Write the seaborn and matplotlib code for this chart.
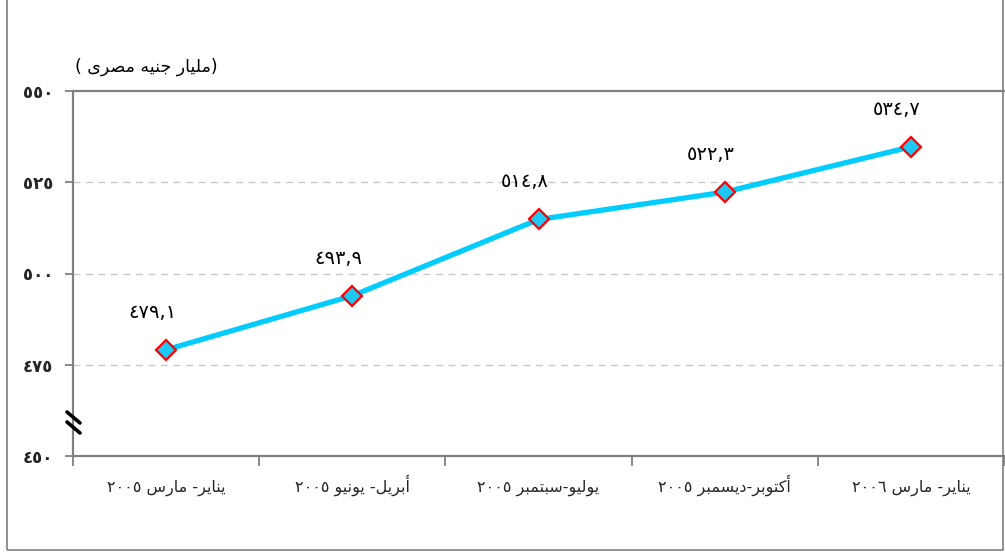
import matplotlib
matplotlib.use("Agg")
import matplotlib.pyplot as plt
import matplotlib.lines as mlines
from matplotlib.patches import Rectangle
from matplotlib.ticker import FixedLocator, NullFormatter
import seaborn as sns
import pandas as pd

# ---------------- data ----------------
periods = ["يناير- مارس ٢٠٠٥", "أبريل- يونيو ٢٠٠٥", "يوليو-سبتمبر ٢٠٠٥",
           "أكتوبر-ديسمبر ٢٠٠٥", "يناير- مارس ٢٠٠٦"]
values = [479.1, 493.9, 514.8, 522.3, 534.7]
value_labels = ["٤٧٩,١", "٤٩٣,٩", "٥١٤,٨", "٥٢٢,٣", "٥٣٤,٧"]
y_ticks = [450, 475, 500, 525, 550]
y_tick_labels = ["٤٥٠", "٤٧٥", "٥٠٠", "٥٢٥", "٥٥٠"]
unit_label = "(مليار جنيه مصرى )"

# ------------- minimal Arabic shaping (matplotlib has no bidi/shaping) -------------
FORMS = {
    'ا': ('\uFE8D', '\uFE8E', None, None),
    'أ': ('\uFE83', '\uFE84', None, None),
    'ب': ('\uFE8F', '\uFE90', '\uFE91', '\uFE92'),
    'ت': ('\uFE95', '\uFE96', '\uFE97', '\uFE98'),
    'ج': ('\uFE9D', '\uFE9E', '\uFE9F', '\uFEA0'),
    'د': ('\uFEA9', '\uFEAA', None, None),
    'ر': ('\uFEAD', '\uFEAE', None, None),
    'س': ('\uFEB1', '\uFEB2', '\uFEB3', '\uFEB4'),
    'ص': ('\uFEB9', '\uFEBA', '\uFEBB', '\uFEBC'),
    'ك': ('\uFED9', '\uFEDA', '\uFEDB', '\uFEDC'),
    'ل': ('\uFEDD', '\uFEDE', '\uFEDF', '\uFEE0'),
    'م': ('\uFEE1', '\uFEE2', '\uFEE3', '\uFEE4'),
    'ن': ('\uFEE5', '\uFEE6', '\uFEE7', '\uFEE8'),
    'ه': ('\uFEE9', '\uFEEA', '\uFEEB', '\uFEEC'),
    'و': ('\uFEED', '\uFEEE', None, None),
    'ى': ('\uFEEF', '\uFEF0', None, None),
    'ي': ('\uFEF1', '\uFEF2', '\uFEF3', '\uFEF4'),
}
MIRROR = {'(': ')', ')': '('}


def _dual(c):
    return c in FORMS and FORMS[c][2] is not None


def _shape_token(tok):
    out = []
    n = len(tok)
    for i, c in enumerate(tok):
        if c not in FORMS:
            out.append(MIRROR.get(c, c))
            continue
        prev_join = i > 0 and _dual(tok[i - 1])
        next_join = _dual(c) and i + 1 < n and tok[i + 1] in FORMS
        iso, fin, ini, med = FORMS[c]
        if prev_join and next_join:
            out.append(med)
        elif prev_join:
            out.append(fin)
        elif next_join:
            out.append(ini)
        else:
            out.append(iso)
    return ''.join(reversed(out))


def vis(text):
    toks = text.split(' ')
    res = []
    for t in reversed(toks):
        if any(c in FORMS for c in t) or t in ('(', ')'):
            res.append(_shape_token(t))
        else:
            res.append(t)
    return ' '.join(res)


# ---------------- plot ----------------
sns.set_theme(style="white")
plt.rcParams['font.family'] = ['DejaVu Sans']

W, H = 1005, 554
fig = plt.figure(figsize=(W / 100, H / 100), dpi=100)
ax = fig.add_axes([73 / W, 1 - 456 / H, (1004 - 73) / W, (456 - 91) / H])

df = pd.DataFrame({"pos": list(range(len(values))), "value": values})
sns.lineplot(data=df, x="pos", y="value", ax=ax, color="#00CCFF", linewidth=3.8,
             marker="D", markersize=10, markerfacecolor="#1EC8F5",
             markeredgecolor="#FF0000", markeredgewidth=1.6, sort=False)

ax.set_xlim(-0.5, len(values) - 0.5)
ax.set_ylim(y_ticks[0], y_ticks[-1])
ax.set_xlabel("")
ax.set_ylabel("")

# grid
for yv in y_ticks[1:-1]:
    ax.axhline(yv, color="#C8C8C8", linewidth=1, linestyle=(0, (5, 4)), zorder=0)

# spines
for s in ["left", "bottom", "top"]:
    ax.spines[s].set_visible(True)
    ax.spines[s].set_color("#808080")
    ax.spines[s].set_linewidth(1.6)
ax.spines["right"].set_visible(False)

# y ticks
ax.set_yticks(y_ticks)
ax.set_yticklabels(y_tick_labels, fontsize=12, fontweight="bold")
ax.tick_params(axis="y", direction="out", length=6, width=1.3, color="#808080",
               pad=8, left=True)

# x ticks: marks at category boundaries, labels at centres
ax.xaxis.set_major_locator(FixedLocator([i - 0.5 for i in range(len(values) + 1)]))
ax.xaxis.set_major_formatter(NullFormatter())
ax.xaxis.set_minor_locator(FixedLocator(list(range(len(values)))))
ax.set_xticklabels([vis(p) for p in periods], minor=True, fontsize=11.5)
ax.tick_params(axis="x", which="major", direction="out", length=7, width=1.3,
               color="#808080", bottom=True)
ax.tick_params(axis="x", which="minor", length=0, pad=26, bottom=True)
for lbl in ax.get_xticklabels(minor=True):
    lbl.set_verticalalignment("baseline")

# data labels
for i, (v, lab) in enumerate(zip(values, value_labels)):
    ax.annotate(lab, (i, v), xytext=(-10, 27), textcoords="offset points",
                ha="center", va="center", fontsize=14, color="black")

# unit label
fig.text(75 / W, 1 - 67 / H, vis(unit_label), fontsize=12.5, ha="left", va="center",
         color="black")

# axis break marks
for (x0, y0, x1, y1) in [(67, 412, 80, 423), (67, 422, 80, 433)]:
    fig.add_artist(mlines.Line2D([x0 / W, x1 / W], [1 - y0 / H, 1 - y1 / H],
                                 color="black", linewidth=2.6,
                                 transform=fig.transFigure))

# outer chart border
fig.add_artist(Rectangle((7 / W, 1 - 550 / H), (1003 - 7) / W, 560 / H,
                         fill=False, edgecolor="#808080", linewidth=1.2,
                         transform=fig.transFigure, clip_on=False))

fig.savefig("out.png", dpi=100)
